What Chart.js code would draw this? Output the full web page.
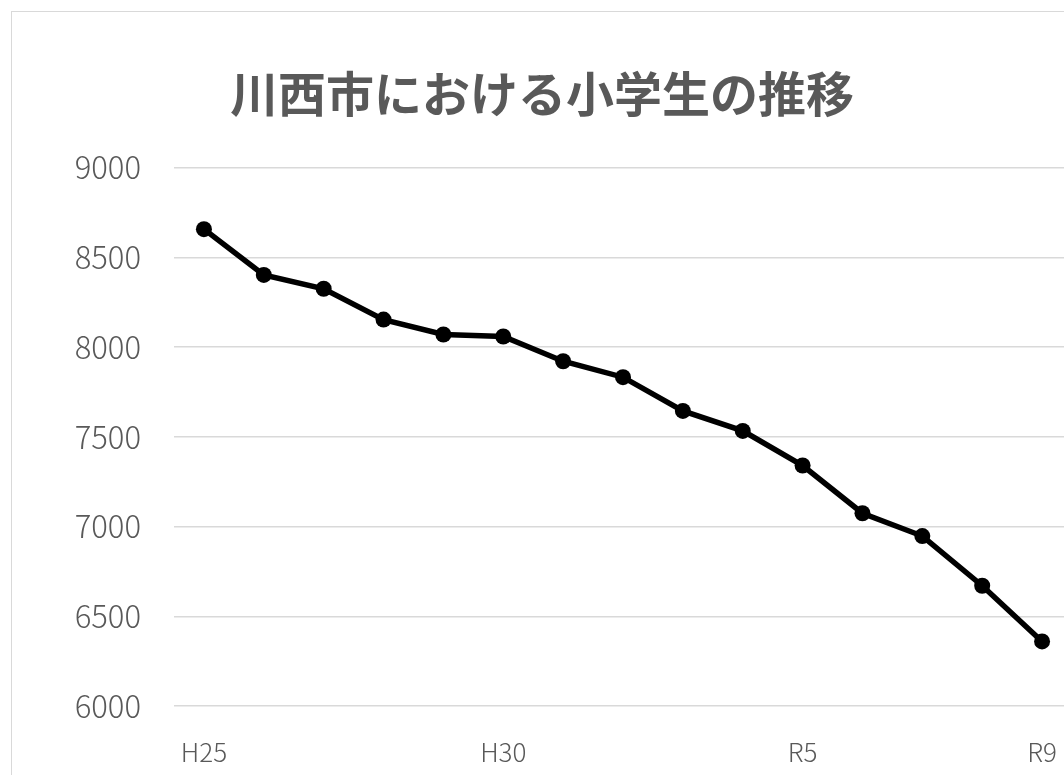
<!DOCTYPE html>
<html lang="ja">
<head>
<meta charset="utf-8">
<title>川西市における小学生の推移</title>
<script src="https://cdn.jsdelivr.net/npm/chart.js@4/dist/chart.umd.min.js"></script>
<style>
    html, body {
        margin: 0;
        padding: 0;
        background: #fff;
        overflow: hidden;
        width: 1064px;
        height: 775px;
    }
    #frame {
        position: absolute;
        left: 11px;
        top: 11px;
        border: 1px solid #d9d9d9;
        width: 1060px;
        height: 800px;
    }
</style>
</head>
<body>
<div id="frame">
    <canvas id="myChart" width="1060" height="800"></canvas>
</div>
<script>
// Chart data
const categories = ['H25', 'H26', 'H27', 'H28', 'H29', 'H30', 'R1', 'R2', 'R3', 'R4', 'R5', 'R6', 'R7', 'R8', 'R9'];
const pupils = [8657, 8402, 8325, 8153, 8070, 8059, 7921, 7832, 7644, 7533, 7340, 7074, 6947, 6670, 6360];
const shownTicks = ['H25', 'H30', 'R5', 'R9'];
const yMin = 6000;
const yMax = 9000;
const yStep = 500;

const fontFamily = '"Noto Sans CJK JP", "Noto Sans", sans-serif';
const textColor = '#595959';

document.addEventListener('DOMContentLoaded', () => {
    const ctx = document.getElementById('myChart').getContext('2d');

    new Chart(ctx, {
        type: 'line',
        data: {
            labels: categories,
            datasets: [{
                label: '小学生',
                data: pupils,
                borderColor: '#000',
                backgroundColor: '#000',
                borderWidth: 5.5,
                pointRadius: 8,
                pointHoverRadius: 8,
                pointBackgroundColor: '#000',
                pointBorderColor: '#000',
                pointBorderWidth: 0,
                tension: 0,
                clip: false
            }]
        },
        options: {
            responsive: false,
            animation: false,
            layout: {
                autoPadding: false,
                padding: { top: 0, right: 0, bottom: 46, left: 0 }
            },
            plugins: {
                legend: { display: false },
                tooltip: { enabled: false },
                title: {
                    display: true,
                    text: '川西市における小学生の推移',
                    color: textColor,
                    font: { family: fontFamily, size: 48, weight: 'bold' },
                    padding: { top: 53, bottom: 45 }
                }
            },
            scales: {
                x: {
                    offset: true,
                    // invisible tick marks push the labels down without shrinking the plot width
                    grid: {
                        display: true,
                        drawOnChartArea: false,
                        drawTicks: true,
                        tickLength: 31,
                        tickColor: 'rgba(0,0,0,0)'
                    },
                    border: { display: false },
                    ticks: {
                        autoSkip: false,
                        maxRotation: 0,
                        padding: 0,
                        color: textColor,
                        font: { family: fontFamily, size: 26, weight: 300 },
                        callback: function (value) {
                            const label = this.getLabelForValue(value);
                            return shownTicks.includes(label) ? label : '';
                        }
                    },
                    afterFit: scale => { scale.height = 60; }
                },
                y: {
                    min: yMin,
                    max: yMax,
                    grid: { color: '#d9d9d9', lineWidth: 1.5, drawTicks: false },
                    border: { display: false },
                    ticks: {
                        stepSize: yStep,
                        padding: 33,
                        color: textColor,
                        font: { family: fontFamily, size: 31, weight: 300 },
                        callback: value => String(value)
                    },
                    afterFit: scale => { scale.width = 162; }
                }
            }
        }
    });
});
</script>
</body>
</html>
